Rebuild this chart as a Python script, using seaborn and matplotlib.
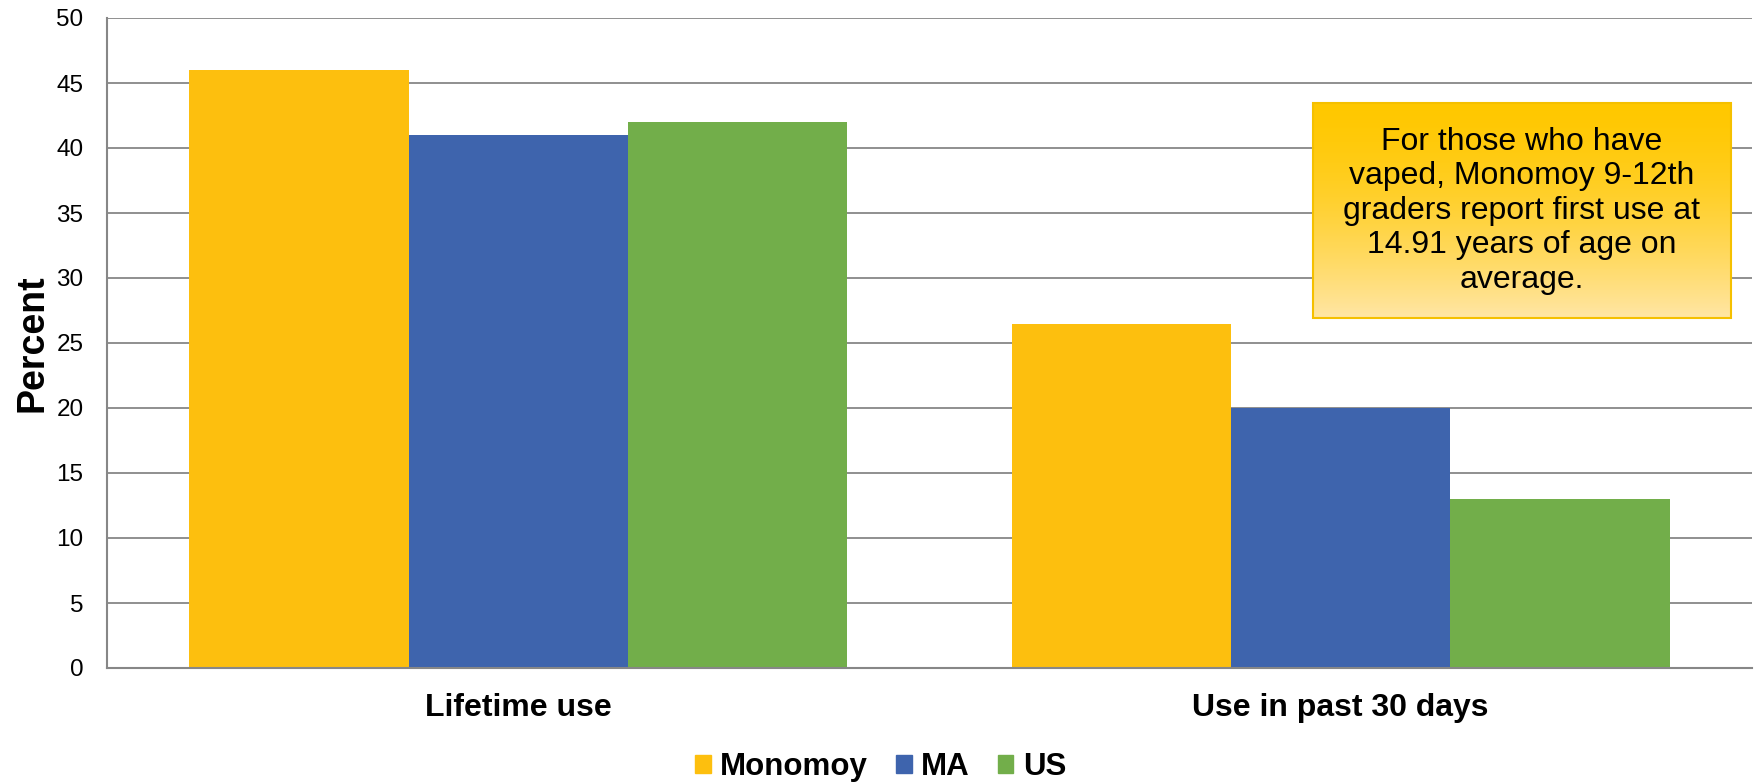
import numpy as np
import pandas as pd
import seaborn as sns
import matplotlib.pyplot as plt
from matplotlib.patches import Rectangle

categories = ["Lifetime use", "Use in past 30 days"]
groups = ["Monomoy", "MA", "US"]
monomoy = [46, 26.5]
ma = [41, 20]
us = [42, 13]
colors = ["#FDBF0E", "#3E64AD", "#72AE4A"]
note = ("For those who have\nvaped, Monomoy 9-12th\ngraders report first use at\n"
        "14.91 years of age on\naverage.")

df = pd.DataFrame({
    "category": categories * 3,
    "group": [g for g in groups for _ in categories],
    "value": monomoy + ma + us,
})

sns.set_style("white")
plt.rcParams['font.family'] = ['Liberation Sans', 'DejaVu Sans']
plt.rcParams['text.color'] = 'black'
plt.rcParams['axes.labelcolor'] = 'black'
plt.rcParams['xtick.color'] = 'black'
plt.rcParams['ytick.color'] = 'black'

fig = plt.figure(figsize=(17.54, 7.83), dpi=100)
ax = fig.add_axes([107 / 1754, 1 - 668 / 783, 1645 / 1754, 650 / 783])

sns.barplot(data=df, x="category", y="value", hue="group", hue_order=groups,
            palette=colors, saturation=1, width=0.8, ax=ax, legend=False,
            linewidth=0, edgecolor="none", zorder=2)

grid_c = "#878787"
ax.set_ylim(0, 50)
ax.set_xlim(-0.5, 1.5)
ax.set_yticks(range(0, 51, 5))
ax.yaxis.grid(True, color=grid_c, linewidth=1.3, zorder=0)
ax.set_axisbelow(True)
for s in ["top", "right"]:
    ax.spines[s].set_visible(False)
for s in ["left", "bottom"]:
    ax.spines[s].set_color(grid_c)
    ax.spines[s].set_linewidth(1.5)
ax.tick_params(axis="y", length=0, pad=17, labelsize=17.5)
ax.tick_params(axis="x", length=0, pad=18, labelsize=23)
for lbl in ax.get_xticklabels():
    lbl.set_fontweight("bold")
ax.set_xlabel("")
ax.set_ylabel("Percent", fontsize=27, fontweight="bold", labelpad=4)

# annotation box with vertical gradient (gold at top, pale at bottom)
x0, x1, y0, y1 = 0.733, 0.987, 0.538, 0.869
top = np.array([255, 200, 0]) / 255
bot = np.array([255, 230, 165]) / 255
t = np.linspace(0, 1, 256) ** 1.6
grad = (top[None, :] * (1 - t[:, None]) + bot[None, :] * t[:, None])[:, None, :]
ax.imshow(grad, extent=[x0, x1, y0, y1], origin="upper", transform=ax.transAxes,
          aspect="auto", zorder=4, interpolation="bilinear")
ax.add_patch(Rectangle((x0, y0), x1 - x0, y1 - y0, transform=ax.transAxes,
                       fill=False, edgecolor="#F5C000", linewidth=1.5, zorder=5))
ax.text((x0 + x1) / 2, (y0 + y1) / 2, note, transform=ax.transAxes,
        ha="center", va="center", fontsize=23, linespacing=1.2, zorder=6)
ax.set_ylim(0, 50)
ax.set_xlim(-0.5, 1.5)

handles = [Rectangle((0, 0), 1, 1, color=c) for c in colors]
leg = fig.legend(handles, groups, loc="center", bbox_to_anchor=(0.502, 0.02),
                 ncol=3, frameon=False, handlelength=0.5, handleheight=0.5,
                 handletextpad=0.3, columnspacing=0.9,
                 prop={"size": 22.5, "weight": "bold"})

fig.savefig("out.png", dpi=100)
